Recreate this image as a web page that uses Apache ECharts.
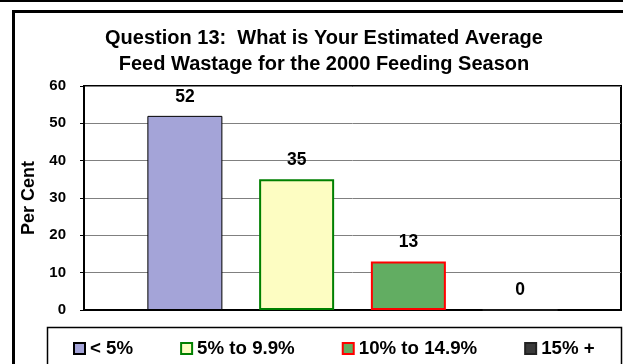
<!DOCTYPE html>
<html>
<head>
<meta charset="utf-8">
<style>
  html, body { margin: 0; padding: 0; background: #fff; }
  #chart { width: 623px; height: 364px; }
</style>
<script src="https://cdn.jsdelivr.net/npm/echarts@6/dist/echarts.min.js"></script>
</head>
<body>
<div id="chart"></div>
<script>
// Survey answers: estimated feed wastage, per cent of respondents
const seriesNames = ['< 5%', '5% to 9.9%', '10% to 14.9%', '15% +'];
const seriesValues = [52, 35, 13, 0];
const yTicks = [0, 10, 20, 30, 40, 50, 60];

const fills = ['#a4a4d8', '#fdfdc2', '#62ad62', '#3a3a3a'];
const borders = ['#000000', '#008000', '#ff0000', '#222222'];
const borderWidths = [1, 2, 2, 1];

const font = 'Arial, "Liberation Sans", sans-serif';

const chart = echarts.init(document.getElementById('chart'), null, { renderer: 'canvas' });

const series = seriesNames.map((name, i) => ({
  name: name,
  type: 'bar',
  data: [seriesValues[i]],
  barWidth: 75,
  barGap: '49%',
  itemStyle: { color: fills[i], borderColor: borders[i], borderWidth: borderWidths[i] },
  label: {
    show: true,
    position: 'top',
    distance: 10,
    color: '#000',
    fontFamily: font,
    fontWeight: 'bold',
    fontSize: 17.5
  },
  z: 3
}));

chart.setOption({
  animation: false,
  backgroundColor: '#fff',
  title: {
    text: 'Question 13:  What is Your Estimated Average\nFeed Wastage for the 2000 Feeding Season',
    left: 319,
    top: 20,
    textAlign: 'center',
    textStyle: { fontFamily: font, fontWeight: 'bold', fontSize: 20, lineHeight: 26, color: '#000' }
  },
  grid: { left: 84, right: 2, top: 86, bottom: 54, containLabel: false,
          show: true, borderColor: '#000', borderWidth: 2, backgroundColor: 'transparent' },
  xAxis: {
    type: 'category',
    data: [''],
    axisLine: { show: true, lineStyle: { color: '#000', width: 2 } },
    axisTick: { show: false },
    axisLabel: { show: false }
  },
  yAxis: {
    type: 'value',
    min: yTicks[0],
    max: yTicks[yTicks.length - 1],
    interval: 10,
    name: 'Per Cent',
    nameLocation: 'middle',
    nameGap: 44,
    nameTextStyle: { fontFamily: font, fontWeight: 'bold', fontSize: 18, color: '#000' },
    axisLine: { show: true, lineStyle: { color: '#000', width: 2 } },
    axisTick: { show: true, length: 4, lineStyle: { color: '#000', width: 1 } },
    axisLabel: { fontFamily: font, fontWeight: 'bold', fontSize: 15, color: '#000', margin: 18 },
    splitLine: { show: true, lineStyle: { color: '#808080', width: 1 } }
  },
  legend: {
    data: seriesNames,
    left: 73,
    top: 339,
    itemWidth: 11,
    itemHeight: 11,
    itemGap: 47,
    icon: 'rect',
    textStyle: { fontFamily: font, fontWeight: 'bold', fontSize: 18.7, color: '#000' },
    padding: 0
  },
  graphic: [
    { type: 'rect', shape: { x: 0, y: -1, width: 623, height: 3 }, style: { fill: '#000' }, silent: true },
    { type: 'rect', shape: { x: 13.5, y: 11.5, width: 640, height: 400 },
      style: { fill: 'none', stroke: '#000', lineWidth: 3 }, silent: true, z: -1 },
    { type: 'rect', shape: { x: 47.5, y: 327.5, width: 574, height: 60 },
      style: { fill: 'none', stroke: '#000', lineWidth: 1.5 }, silent: true, z: -1 }
  ],
  series: series
});
</script>
</body>
</html>
